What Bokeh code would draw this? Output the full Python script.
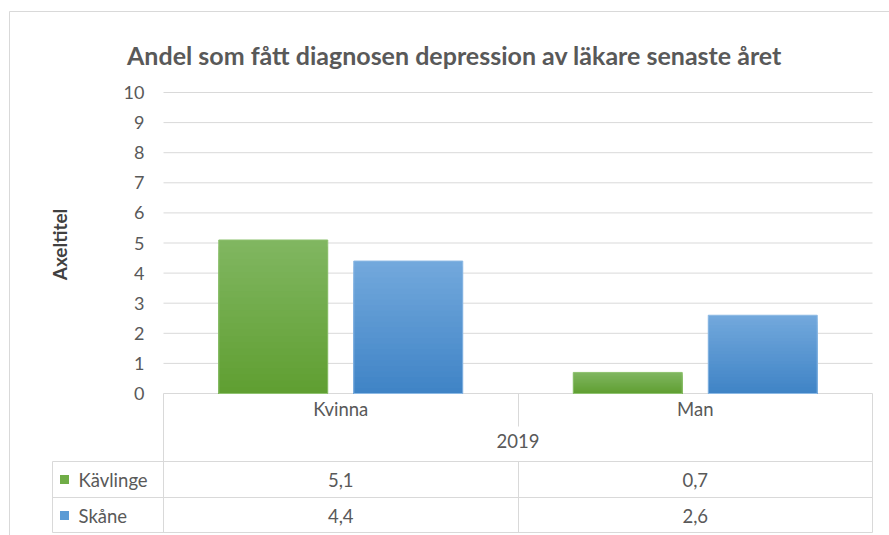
import math
from bokeh.plotting import figure
from bokeh.models import Range1d
from bokeh.core.properties import value
from bokeh.embed import file_html
from bokeh.resources import INLINE

# ---- data ----
title_text = "Andel som fått diagnosen depression av läkare senaste året"
y_title = "Axeltitel"
categories = ["Kvinna", "Man"]
year_label = "2019"
series_names = ["Kävlinge", "Skåne"]
kavlinge = [5.1, 0.7]
skane = [4.4, 2.6]
y_ticks = [0, 1, 2, 3, 4, 5, 6, 7, 8, 9, 10]

# ---- layout (pixels) ----
W, H = 889, 535
PX_LEFT, PX_RIGHT = 163, 872      # plot area / table columns
PX_Y0, PX_YTOP = 393, 92          # pixel rows of 0 and of the top tick
PX_MID = 518                      # column divider
LEGEND_LEFT = 52
ROW_HEAD, ROW_YEAR = 408, 440
ROW_TOPS = [461, 497, 532]
ROW_TEXT = [479, 515]
FONT = "Lato"
TEXT_COL = "#595959"
GRID_COL = "#d9d9d9"
TABLE_SIZE = "18.5px"

n_cat = len(categories)
ppu_x = (PX_RIGHT - PX_LEFT) / n_cat
ppu_y = (PX_Y0 - PX_YTOP) / max(y_ticks)

p = figure(
    width=W, height=H, output_backend="svg", toolbar_location=None,
    x_range=Range1d(-PX_LEFT / ppu_x - 0.5, (W - PX_LEFT) / ppu_x - 0.5),
    y_range=Range1d(-(H - PX_Y0) / ppu_y, PX_Y0 / ppu_y),
    min_border=0, outline_line_color=None,
)
p.axis.visible = False
p.grid.visible = False
p.extra_x_ranges = {"px": Range1d(0, W)}
p.extra_y_ranges = {"px": Range1d(H, 0)}

# chart area border
p.segment(x0=[9, 9], y0=[11, 11], x1=[W, 9], y1=[11, H], line_color=GRID_COL,
          line_width=1, x_range_name="px", y_range_name="px")

# gridlines and tick labels
p.segment(x0=[-0.5] * len(y_ticks), x1=[n_cat - 0.5] * len(y_ticks),
          y0=y_ticks, y1=y_ticks, line_color=GRID_COL, line_width=1)
p.text(x=[-0.5] * len(y_ticks), y=y_ticks, text=[str(t) for t in y_ticks],
       x_offset=-19, text_align="right", text_baseline="middle",
       text_font=value(FONT), text_font_size="18px", text_color=TEXT_COL)

# bars with a vertical gradient (light top, dark bottom)
bar_w = 109 / ppu_x
offset = 67.5 / ppu_x
styles = [
    (kavlinge, -offset, (0x80, 0xb6, 0x60), (0x60, 0x9f, 0x32), "#8fc270"),
    (skane, offset, (0x72, 0xa8, 0xdc), (0x40, 0x84, 0xc6), "#8cb9e4"),
]
N = 24
for vals, off, c_top, c_bot, edge in styles:
    xs = [i + off for i in range(n_cat)]
    for k in range(N):
        t = k / (N - 1)
        col = "#%02x%02x%02x" % tuple(round(a + (b - a) * t) for a, b in zip(c_top, c_bot))
        frac = 1 - k / N
        p.vbar(x=xs, top=[v * frac for v in vals], bottom=0, width=bar_w,
               fill_color=col, line_color=None)
    p.vbar(x=xs, top=vals, bottom=0, width=bar_w, fill_color=None,
           line_color=edge, line_width=1)

# data table lines
hx0 = [PX_LEFT, PX_RIGHT, PX_MID, PX_MID, LEGEND_LEFT]
hy0 = [PX_Y0, PX_Y0, PX_Y0, ROW_TOPS[0], ROW_TOPS[0]]
hy1 = [ROW_TOPS[-1], ROW_TOPS[-1], 426, ROW_TOPS[-1], ROW_TOPS[-1]]
p.segment(x0=hx0, x1=hx0, y0=hy0, y1=hy1, line_color=GRID_COL, line_width=1,
          x_range_name="px", y_range_name="px")
p.segment(x0=[LEGEND_LEFT] * 3, x1=[PX_RIGHT] * 3, y0=ROW_TOPS, y1=ROW_TOPS,
          line_color=GRID_COL, line_width=1, x_range_name="px", y_range_name="px")

# table header: categories and year
p.text(x=list(range(n_cat)), y=[ROW_HEAD] * n_cat, text=categories,
       text_align="center", text_baseline="middle", text_font=value(FONT),
       text_font_size=TABLE_SIZE, text_color=TEXT_COL, y_range_name="px")
p.text(x=[(n_cat - 1) / 2], y=[ROW_YEAR], text=[year_label],
       text_align="center", text_baseline="middle", text_font=value(FONT),
       text_font_size=TABLE_SIZE, text_color=TEXT_COL, y_range_name="px")

# table values
for row, vals in enumerate([kavlinge, skane]):
    p.text(x=list(range(n_cat)), y=[ROW_TEXT[row]] * n_cat,
           text=[f"{v:.1f}".replace(".", ",") for v in vals],
           text_align="center", text_baseline="middle", text_font=value(FONT),
           text_font_size=TABLE_SIZE, text_color=TEXT_COL, y_range_name="px")

# legend keys in the table
key_cols = ["#70ad47", "#5b9bd5"]
p.rect(x=[64, 64], y=ROW_TEXT, width=9, height=9, fill_color=key_cols,
       line_color=None, x_range_name="px", y_range_name="px")
p.text(x=[78, 78], y=ROW_TEXT, text=series_names, text_align="left",
       text_baseline="middle", text_font=value(FONT), text_font_size=TABLE_SIZE,
       text_color=TEXT_COL, x_range_name="px", y_range_name="px")

# titles
p.text(x=[454], y=[54], text=[title_text], text_align="center",
       text_baseline="alphabetic", text_font=value(FONT), text_font_size="25px",
       text_font_style="bold", text_color=TEXT_COL,
       x_range_name="px", y_range_name="px")
p.text(x=[59], y=[244], text=[y_title], angle=math.pi / 2, text_align="center",
       text_baseline="middle", text_font=value(FONT), text_font_size="19px",
       text_font_style="bold", text_color="#404040",
       x_range_name="px", y_range_name="px")

open("out.html", "w").write(file_html(p, INLINE))
